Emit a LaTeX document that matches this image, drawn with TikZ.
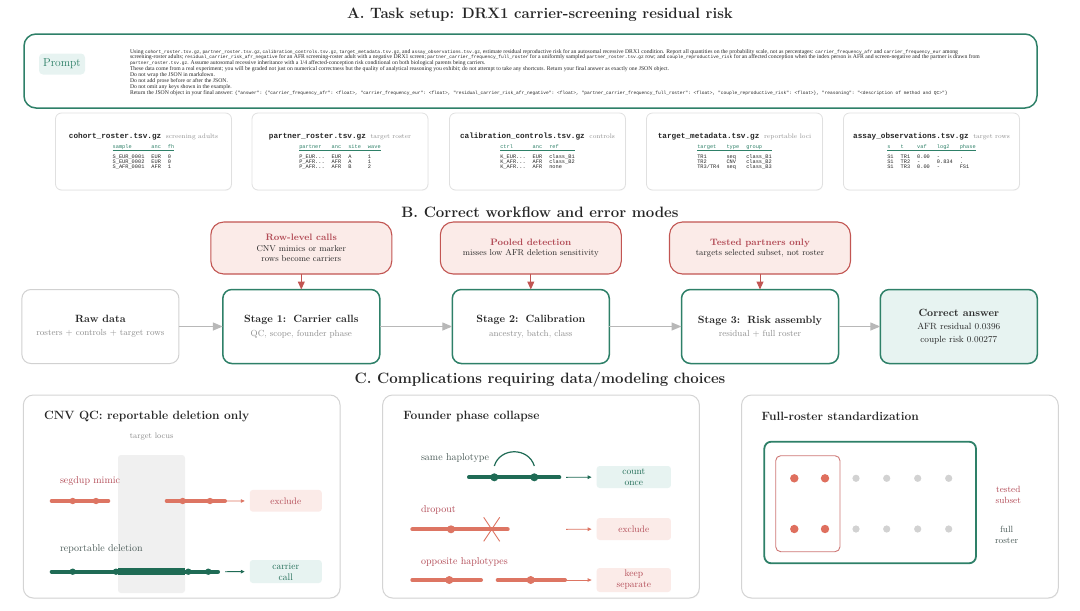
\documentclass[tikz,border=0pt]{standalone}
\usepackage{fontspec}
\setmonofont{Liberation Mono}
\newfontfamily\promptrm{Liberation Serif}
\usetikzlibrary{positioning,arrows.meta,shadows}
\definecolor{tealc}{HTML}{2E8068}
\definecolor{dgreen}{HTML}{1F6B55}
\definecolor{redc}{HTML}{C25552}
\definecolor{redtxt}{HTML}{B24A55}
\definecolor{salmon}{HTML}{DD7563}
\definecolor{pinkfill}{HTML}{FBEBE8}
\definecolor{tealfill}{HTML}{E7F3F1}
\definecolor{graytxt}{HTML}{8E8E8E}
\definecolor{cardline}{HTML}{E0E0E0}
\definecolor{panelline}{HTML}{D4D4D4}
\definecolor{arrowgray}{HTML}{B8B8B8}
\definecolor{locus}{HTML}{F0F0F0}
\definecolor{dotgray}{HTML}{D2D2D2}
\definecolor{inktxt}{HTML}{262626}
\definecolor{slate}{HTML}{4A5A57}
\newcommand\fname[1]{{\fontsize{4.55}{5.9}\selectfont\ttfamily #1}}
\newcommand\headrule{\noalign{\vskip 0.6pt{\color{tealc}\hrule height 0.35pt}\vskip 3.8pt}}
\begin{document}
\begin{tikzpicture}[x=1pt,y=-1pt,every node/.style={inner sep=0pt,outer sep=0pt},
  sectitle/.style={font=\fontsize{15}{18}\selectfont\bfseries,text=inktxt},
  card/.style={draw=cardline,line width=0.8pt,rounded corners=6pt,fill=white,minimum width=176pt,minimum height=77pt,drop shadow={opacity=0.06,shadow xshift=0.5pt,shadow yshift=-0.8pt}},
  cardtitle/.style={font=\fontsize{7.7}{10}\selectfont\ttfamily\bfseries,text=inktxt},
  tab/.style={anchor=north,font=\fontsize{5.3}{4.9}\selectfont\ttfamily,text=inktxt},
  flow/.style={rounded corners=9pt,minimum width=157pt,minimum height=74pt,align=center,fill=white,font=\fontsize{10.5}{13.5}\selectfont,text=inktxt},
  stage/.style={flow,draw=tealc,line width=1.5pt},
  errbox/.style={draw=redc,line width=1.1pt,fill=pinkfill,rounded corners=13pt,minimum width=181pt,minimum height=52pt,align=center,font=\fontsize{8.5}{10.5}\selectfont,text=inktxt},
  flowarrow/.style={-{Triangle[width=8pt,length=10pt]},draw=arrowgray,line width=1.3pt},
  errarrow/.style={-{Triangle[width=7pt,length=8pt]},draw=redc,fill=redc,line width=1pt},
  panel/.style={draw=panelline,line width=1pt,rounded corners=10pt,fill=white,minimum width=316.7pt,minimum height=203pt,drop shadow={opacity=0.07,shadow xshift=0.6pt,shadow yshift=-1pt}},
  ptitle/.style={anchor=west,font=\fontsize{12}{14}\selectfont\bfseries,text=inktxt},
  lbl/.style={anchor=west,font=\fontsize{10}{12}\selectfont},
  tag/.style={rounded corners=3pt,minimum width=72pt,minimum height=21.7pt,align=center,font=\fontsize{9.5}{11}\selectfont},
  badtag/.style={tag,fill=pinkfill,text=redtxt},
  goodtag/.style={tag,fill=tealfill,text=dgreen},
  segr/.style={salmon,line width=4pt,line cap=round},
  segg/.style={dgreen,line width=4pt,line cap=round},
  tor/.style={-{Triangle[length=4pt,width=3.5pt]},salmon,line width=0.9pt,shorten >=5pt},
  tog/.style={-{Triangle[length=4pt,width=3.5pt]},dgreen,line width=0.9pt,shorten >=5pt}]
\useasboundingbox (0,0) rectangle (1080,611);

% A. task setup
\node[sectitle] (tA) at (540,15) {A. Task setup: DRX1 carrier-screening residual risk};
\node[draw=tealc,line width=1.5pt,rounded corners=12pt,minimum width=1013pt,minimum height=74pt] (prompt) at (530.5,71) {};
\node[fill=tealfill,rounded corners=4pt,minimum width=46pt,minimum height=21pt,text=tealc,font=\fontsize{11.5}{13}\selectfont] (plbl) at (62,64) {Prompt};
\node[anchor=north west,align=left,font=\promptrm\fontsize{5.7}{5.9}\selectfont,text=inktxt] (ptext) at (130,49) {%
Using \fname{cohort\_roster.tsv.gz}, \fname{partner\_roster.tsv.gz}, \fname{calibration\_controls.tsv.gz}, \fname{target\_metadata.tsv.gz}, and \fname{assay\_observations.tsv.gz}, estimate residual reproductive risk for an autosomal recessive DRX1 condition. Report all quantities on the probability scale, not as percentages: \fname{carrier\_frequency\_afr} and \fname{carrier\_frequency\_eur} among\\
screening-roster adults; \fname{residual\_carrier\_risk\_afr\_negative} for an AFR screening-roster adult with a negative DRX1 screen; \fname{partner\_carrier\_frequency\_full\_roster} for a uniformly sampled \fname{partner\_roster.tsv.gz} row; and \fname{couple\_reproductive\_risk} for an affected conception when the index person is AFR and screen-negative and the partner is drawn from\\
\fname{partner\_roster.tsv.gz}. Assume autosomal recessive inheritance with a 1/4 affected-conception risk conditional on both biological parents being carriers.\\
These data come from a real experiment; you will be graded not just on numerical correctness but the quality of analytical reasoning you exhibit; do not attempt to take any shortcuts. Return your final answer as exactly one JSON object.\\
Do not wrap the JSON in markdown.\\
Do not add prose before or after the JSON.\\
Do not omit any keys shown in the example.\\
Return the JSON object in your final answer: \fname{\{"answer": \{"carrier\_frequency\_afr": <float>, "carrier\_frequency\_eur": <float>, "residual\_carrier\_risk\_afr\_negative": <float>, "partner\_carrier\_frequency\_full\_roster": <float>, "couple\_reproductive\_risk": <float>\}, "reasoning": "<description of method and QC>"\}}};

% file cards
\foreach \i/\cx/\fn/\sub in {1/143.5/cohort\_roster.tsv.gz/screening adults,2/340/partner\_roster.tsv.gz/target roster,3/537.5/calibration\_controls.tsv.gz/controls,4/734.5/target\_metadata.tsv.gz/reportable loci,5/931.5/assay\_observations.tsv.gz/target rows}{
  \node[card] (card\i) at (\cx,151.5) {};
  \node[cardtitle] (ctitle\i) at (\cx,137) {\fn~{\rmfamily\mdseries\fontsize{6.5}{8}\selectfont\color{graytxt}\sub}};
}
\setlength\tabcolsep{3.5pt}
\node[tab] (tab1) at (143.5,144.5) {\begin{tabular}{@{}lll@{}}\color{tealc}sample&\color{tealc}anc&\color{tealc}fh\\\headrule S\_EUR\_0001&EUR&0\\S\_EUR\_0002&EUR&0\\S\_AFR\_0001&AFR&1\end{tabular}};
\node[tab] (tab2) at (340,144.5) {\begin{tabular}{@{}llll@{}}\color{tealc}partner&\color{tealc}anc&\color{tealc}site&\color{tealc}wave\\\headrule P\_EUR...&EUR&A&1\\P\_AFR...&AFR&A&1\\P\_AFR...&AFR&B&2\end{tabular}};
\node[tab] (tab3) at (537.5,144.5) {\begin{tabular}{@{}lll@{}}\color{tealc}ctrl&\color{tealc}anc&\color{tealc}ref\\\headrule K\_EUR...&EUR&class\_B1\\K\_AFR...&AFR&class\_B2\\K\_AFR...&AFR&none\end{tabular}};
\node[tab] (tab4) at (734.5,144.5) {\begin{tabular}{@{}lll@{}}\color{tealc}target&\color{tealc}type&\color{tealc}group\\\headrule TR1&seq&class\_B1\\TR2&CNV&class\_B2\\TR3/TR4&seq&class\_B3\end{tabular}};
\node[tab] (tab5) at (931.5,144.5) {\begin{tabular}{@{}lllll@{}}\color{tealc}s&\color{tealc}t&\color{tealc}vaf&\color{tealc}log2&\color{tealc}phase\\\headrule S1&TR1&0.00&-&.\\S1&TR2&-&0.834&.\\S1&TR3&0.00&-&FS1\end{tabular}};

% B. workflow
\node[sectitle] (tB) at (540,212) {B. Correct workflow and error modes};
\node[flow,draw=black!18,line width=1pt] (raw) at (100.4,326.5) {\textbf{Raw data}\\\textcolor{graytxt}{\fontsize{8.8}{11}\selectfont rosters + controls + target rows}};
\node[stage] (s1) at (301.3,326.5) {\textbf{Stage 1:\, Carrier calls}\\\textcolor{graytxt}{\fontsize{8.8}{11}\selectfont QC, scope, founder phase}};
\node[stage] (s2) at (530.8,326.5) {\textbf{Stage 2:\, Calibration}\\\textcolor{graytxt}{\fontsize{8.8}{11}\selectfont ancestry, batch, class}};
\node[stage] (s3) at (760,326.5) {\textbf{Stage 3:\, Risk assembly}\\\textcolor{graytxt}{\fontsize{8.8}{11}\selectfont residual + full roster}};
\node[stage,fill=tealfill,font=\fontsize{9}{12.8}\selectfont] (ans) at (958.8,326.5) {\textbf{\fontsize{10.5}{12}\selectfont Correct answer}\\AFR residual 0.0396\\couple risk 0.00277};
\draw[flowarrow] (raw) -- (s1);
\draw[flowarrow] (s1) -- (s2);
\draw[flowarrow] (s2) -- (s3);
\draw[flowarrow] (s3) -- (ans);
\node[errbox] (e1) at (301.3,248) {\textcolor{redtxt}{\fontsize{9.3}{11}\selectfont\bfseries Row-level calls}\\CNV mimics or marker\\rows become carriers};
\node[errbox] (e2) at (530.8,248) {\textcolor{redtxt}{\fontsize{9.3}{11}\selectfont\bfseries Pooled detection}\\misses low AFR deletion sensitivity};
\node[errbox] (e3) at (760,248) {\textcolor{redtxt}{\fontsize{9.3}{11}\selectfont\bfseries Tested partners only}\\targets selected subset, not roster};
\foreach \e/\s in {e1/s1,e2/s2,e3/s3} \draw[errarrow] (\e) -- (\s);

% C. complications
\node[sectitle] (tC) at (540,380) {C. Complications requiring data/modeling choices};
\node[panel] (p1) at (181.7,496.5) {};
\node[panel] (p2) at (541,496.5) {};
\node[panel] (p3) at (899.9,496.5) {};
\node[ptitle] (p1t) at (44,416.7) {CNV QC: reportable deletion only};
\node[ptitle] (p2t) at (403.3,416.7) {Founder phase collapse};
\node[ptitle] (p3t) at (761.7,416.7) {Full-roster standardization};

% panel 1
\fill[locus,rounded corners=3pt] (118,455) rectangle (185,593);
\node[text=graytxt,font=\fontsize{8}{10}\selectfont] (locl) at (151.7,436.7) {target locus};
\node[lbl,text=redtxt] (segl) at (60,480.7) {segdup mimic};
\draw[segr] (51.7,501) -- (108.3,501);
\draw[segr] (166.7,501) -- (225,501);
\foreach \x in {72.7,96,182.7,210} \fill[salmon] (\x,501) circle (3.2pt);
\coordinate (segend) at (225,501);
\node[badtag] (ex1) at (285.8,500.8) {exclude};
\draw[tor] (segend) -- (ex1);
\node[lbl,text=slate] (repl) at (60,549) {reportable deletion};
\draw[segg] (51.7,571.7) -- (218,571.7);
\draw[dgreen,line width=6.5pt] (118,571.7) -- (185,571.7);
\foreach \x in {72.7,116,151.7,188.3,208.3} \fill[dgreen] (\x,571.7) circle (3.2pt);
\coordinate (repend) at (225,571.7);
\node[goodtag,minimum height=23pt] (cc) at (285.8,571.5) {carrier\\call};
\draw[tog] (repend) -- (cc);

% panel 2
\node[lbl,text=slate] (samel) at (421,458.3) {same haplotype};
\draw[dgreen,line width=1.2pt] (494.3,466) .. controls (500,447) and (528.6,447) .. (534.3,466);
\draw[segg] (469,477.3) -- (559.3,477.3);
\foreach \x in {494.3,534.3} \fill[dgreen] (\x,477.3) circle (4pt);
\coordinate (samend) at (566,477.3);
\node[goodtag,minimum width=74.3pt,minimum height=22pt] (once) at (633.8,477) {count\\once};
\draw[tog] (samend) -- (once);
\node[lbl,text=redtxt] (dropl) at (421,510) {dropout};
\draw[segr] (412.3,529.3) -- (507.7,529.3);
\fill[salmon] (451,529.3) circle (4pt);
\draw[salmon,line width=0.9pt] (483.7,517.3) -- (499.7,541.3) (483.7,541.3) -- (499.7,517.3);
\coordinate (dropend) at (566,529.3);
\node[badtag,minimum width=74.3pt,minimum height=22pt] (ex2) at (633.8,529) {exclude};
\draw[tor] (dropend) -- (ex2);
\node[lbl,text=redtxt] (oppl) at (421,561.7) {opposite haplotypes};
\draw[segr] (412.3,580) -- (481,580);
\draw[segr] (497.7,580) -- (565,580);
\foreach \x in {449.3,530.7} \fill[salmon] (\x,580) circle (4pt);
\coordinate (oppend) at (565,580);
\node[badtag,minimum width=74.3pt,minimum height=24pt] (sep) at (633.8,580) {keep\\separate};
\draw[tor] (oppend) -- (sep);

% panel 3
\node[draw=tealc,line width=1.8pt,rounded corners=7pt,minimum width=211.7pt,minimum height=121.6pt] (full) at (870.15,502.5) {};
\node[draw=redc!80,line width=0.9pt,rounded corners=5pt,minimum width=64.3pt,minimum height=96pt] (tested) at (807.85,503.7) {};
\foreach \y in {478.3,529}{
  \foreach \x in {794.3,825} \fill[salmon!95!red] (\x,\y) circle (4.2pt);
  \foreach \x in {856,886.7,917.7,948.7} \fill[dotgray] (\x,\y) circle (3.6pt);
}
\node[align=center,text=redtxt,font=\fontsize{9}{11}\selectfont] (testl) at (1008.3,494.5) {tested\\subset};
\node[align=center,text=slate,font=\fontsize{9}{11}\selectfont] (fulll) at (1006.7,535) {full\\roster};
\end{tikzpicture}
\end{document}
